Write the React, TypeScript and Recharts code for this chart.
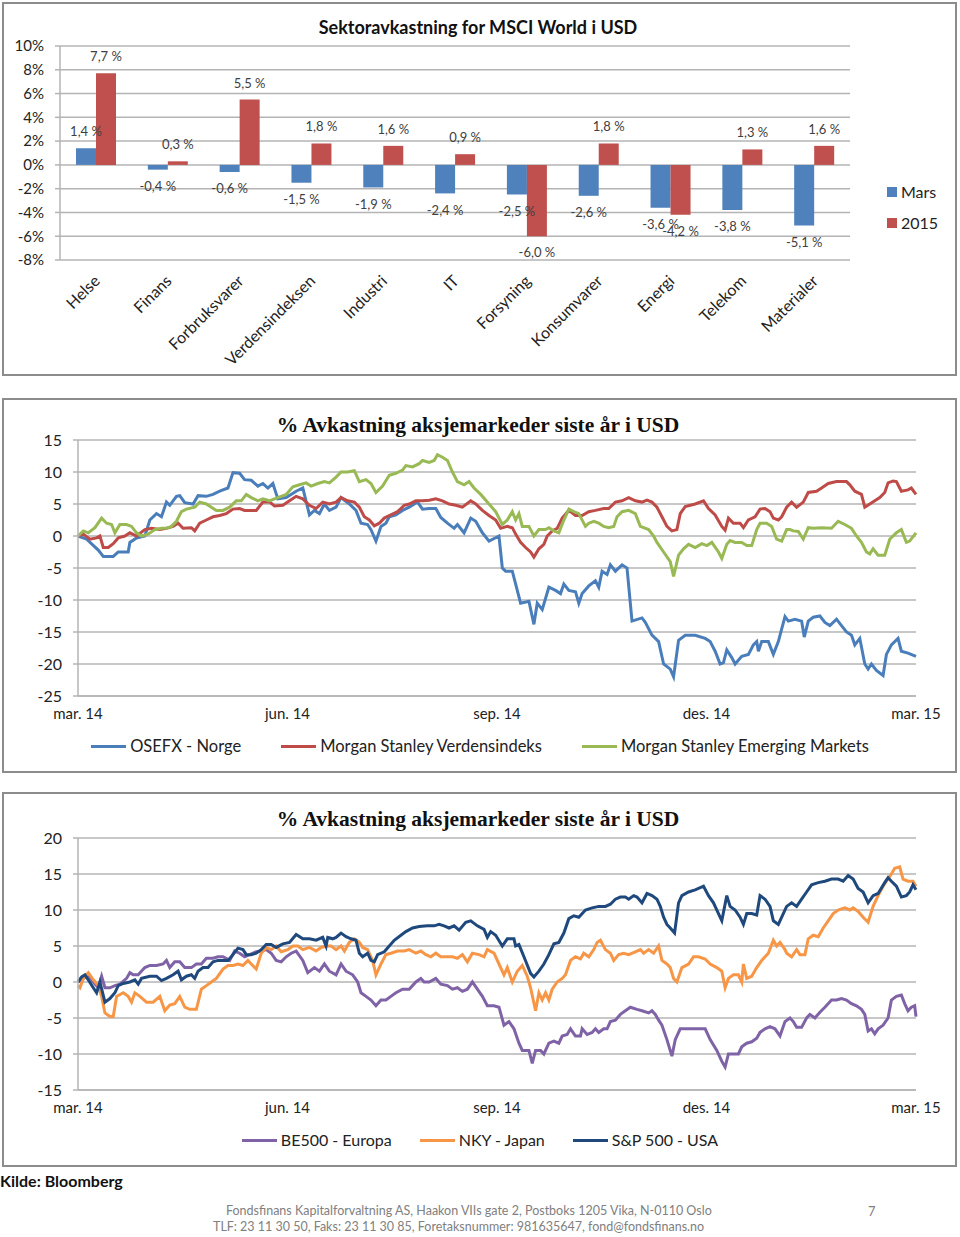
import React from 'react'
import { BarChart, Bar, XAxis, YAxis, CartesianGrid, LabelList, Legend, LineChart, Line } from 'recharts'

const SANS = 'Lato, "Open Sans", Arial, sans-serif'
const SERIF = '"Liberation Serif", "Times New Roman", serif'

// --- sektoravkastning (bar chart) ---
const SECTORS = ['Helse', 'Finans', 'Forbruksvarer', 'Verdensindeksen', 'Industri', 'IT', 'Forsyning', 'Konsumvarer', 'Energi', 'Telekom', 'Materialer']
const MARS_RETURNS = [1.4, -0.4, -0.6, -1.5, -1.9, -2.4, -2.5, -2.6, -3.6, -3.8, -5.1]
const YTD_RETURNS = [7.7, 0.3, 5.5, 1.8, 1.6, 0.9, -6.0, 1.8, -4.2, 1.3, 1.6]
const SECTOR_TICKS = [-8, -6, -4, -2, 0, 2, 4, 6, 8, 10]

// --- aksjemarkeder siste år (line charts), x = handelsdag fra mar. 14 ---
const MONTH_TICKS = [0, 63, 126, 189, 252]
const MONTH_LABELS = ['mar. 14', 'jun. 14', 'sep. 14', 'des. 14', 'mar. 15']
const TOP_TICKS = [-25, -20, -15, -10, -5, 0, 5, 10, 15]
const BOTTOM_TICKS = [-15, -10, -5, 0, 5, 10, 15, 20]

const OSEFX_NORGE = [
  [0, 0], [2.6, -0.5], [6.1, -2.2], [7.6, -3.2], [10.6, -3.2], [12.1, -2.5], [15.1, -2.5], [15.6, -1.0], [17.6, -0.3], [20.1, 0],
  [21.6, 2.5], [23.6, 3.5], [25.1, 3.0], [26.6, 5.3], [27.6, 4.8], [29.6, 6.2], [30.6, 6.3], [32.1, 5.2], [34.6, 5.0], [36.1, 6.3],
  [38.6, 6.2], [40.6, 6.5], [42.6, 7.0], [45.1, 7.5], [46.6, 9.9], [48.6, 9.8], [50.1, 8.8], [52.1, 8.7], [54.1, 7.8], [55.6, 8.2],
  [57.1, 7.5], [58.6, 8.2], [60.1, 5.8], [62.6, 6.0], [65.6, 7.0], [67.6, 7.5], [69.6, 3.3], [71.1, 4.0], [72.6, 3.5], [74.1, 5.0],
  [75.6, 4.0], [77.6, 4.5], [79.1, 6.0], [81.6, 5.0], [83.6, 4.0], [85.1, 2.0], [87.1, 1.8], [88.1, 1.0], [89.6, -0.8], [91.1, 1.5],
  [92.6, 2.0], [93.6, 3.0], [95.6, 3.3], [97.6, 4.0], [99.6, 4.5], [102.1, 5.3], [103.6, 4.2], [105.6, 4.3], [107.6, 4.3], [109.1, 2.9],
  [111.1, 2.0], [113.1, 1.2], [114.1, 1.8], [116.1, 0.5], [118.1, 2.8], [119.6, 2.3], [121.6, 0.5], [123.6, -0.8], [126.6, 0], [127.6, -5.0],
  [128.6, -5.5], [130.6, -5.5], [133.1, -10.5], [135.6, -10.2], [137.1, -13.8], [138.1, -10.5], [139.6, -11.5], [141.6, -8.0], [143.6, -8.5], [145.1, -9.0],
  [146.1, -7.5], [147.6, -8.5], [149.6, -8.7], [150.6, -10.5], [151.6, -9.0], [153.6, -7.8], [155.6, -7.0], [156.6, -8.0], [157.6, -5.5], [159.1, -6.0],
  [160.1, -4.5], [161.6, -5.5], [163.6, -4.5], [165.1, -5.0], [166.6, -13.3], [169.6, -12.8], [170.6, -13.5], [172.6, -15.5], [174.6, -16.5], [176.1, -20.0],
  [178.1, -20.8], [179.1, -22.0], [180.6, -16.3], [182.6, -15.5], [185.6, -15.5], [188.6, -16.0], [190.1, -16.5], [191.6, -18.0], [193.1, -20.0], [194.1, -19.8],
  [195.1, -17.8], [196.6, -19.0], [197.6, -20.0], [199.6, -18.8], [201.6, -18.5], [203.1, -17.0], [204.1, -16.5], [204.6, -18.0], [205.6, -16.5], [207.6, -16.5],
  [209.1, -18.5], [210.6, -16.5], [212.6, -12.6], [213.6, -13.3], [215.6, -13.0], [217.6, -13.3], [218.4, -15.8], [219.6, -13.3], [221.1, -12.7], [223.1, -12.5],
  [224.6, -13.5], [226.1, -14.0], [228.1, -13.0], [229.6, -14.0], [231.1, -15.0], [232.6, -15.5], [233.6, -17.0], [235.1, -16.0], [236.6, -20.0], [237.6, -20.8],
  [238.6, -20.0], [240.1, -21.0], [242.1, -21.8], [243.1, -18.5], [244.6, -17.0], [246.6, -16.0], [247.6, -18.0], [249.6, -18.3], [252, -18.8],
]

const MS_VERDENSINDEKS = [
  [0, 0], [1.6, 0.3], [3.6, -0.5], [5.6, -0.3], [6.6, 0], [7.6, -1.8], [9.1, -1.8], [10.6, -1.2], [12.1, -0.3], [14.1, 0],
  [15.6, 0.5], [17.6, 0], [20.1, 1.0], [22.1, 1.2], [24.6, 1.0], [26.6, 1.2], [28.6, 1.5], [30.1, 2.0], [31.6, 1.2], [34.1, 1.3],
  [35.1, 0.8], [36.6, 2.0], [38.6, 2.5], [40.6, 3.0], [42.6, 3.2], [44.6, 3.5], [46.6, 4.2], [48.6, 4.3], [50.1, 4.0], [52.1, 4.0],
  [53.6, 4.0], [55.6, 5.3], [57.6, 5.3], [59.1, 4.7], [61.6, 4.8], [63.6, 5.5], [65.6, 6.2], [67.6, 5.8], [69.6, 4.8], [71.6, 4.3],
  [73.6, 5.3], [75.6, 5.0], [77.6, 5.3], [79.1, 6.0], [81.1, 5.5], [83.1, 5.3], [84.6, 4.5], [86.1, 3.0], [87.6, 2.5], [89.1, 1.6],
  [90.6, 2.0], [92.1, 2.8], [93.6, 3.2], [96.1, 3.8], [98.1, 4.8], [99.6, 5.0], [101.6, 5.5], [103.6, 5.5], [105.6, 5.6], [107.6, 5.8],
  [109.6, 5.5], [111.6, 5.0], [113.6, 4.8], [115.6, 4.5], [118.1, 5.5], [119.6, 5.0], [121.6, 4.0], [123.6, 3.2], [125.6, 2.5], [127.1, 1.2],
  [129.1, 1.5], [130.6, 1.3], [131.6, 0.3], [133.1, -1.0], [134.6, -1.8], [136.1, -2.5], [137.1, -3.3], [138.6, -2.0], [140.1, -1.3], [141.1, 0],
  [142.6, 0.8], [144.1, 1.2], [145.6, 2.8], [147.6, 4.0], [149.6, 3.2], [151.6, 3.2], [153.6, 3.8], [155.6, 4.0], [158.1, 4.3], [159.6, 4.3],
  [161.6, 5.3], [163.6, 5.5], [165.6, 6.0], [167.6, 5.5], [169.6, 5.3], [171.1, 5.6], [172.6, 5.3], [174.1, 4.5], [175.6, 3.0], [177.1, 1.5],
  [178.6, 0.8], [180.1, 1.0], [181.1, 3.5], [182.6, 4.6], [185.6, 5.0], [188.1, 5.5], [189.6, 4.3], [191.6, 3.3], [193.6, 1.5], [194.6, 0.9],
  [195.6, 2.8], [197.1, 2.0], [199.1, 2.0], [200.1, 1.3], [201.6, 2.5], [203.6, 3.0], [205.1, 4.2], [206.6, 4.3], [208.1, 3.8], [209.1, 2.8],
  [210.6, 2.5], [211.6, 3.0], [213.1, 4.5], [214.6, 5.3], [216.1, 4.5], [218.1, 5.3], [219.6, 6.8], [222.1, 7.0], [223.6, 7.5], [225.6, 8.2],
  [228.1, 8.5], [231.1, 8.5], [232.1, 8.0], [233.6, 7.0], [235.6, 6.5], [236.6, 4.5], [238.1, 5.0], [239.6, 5.5], [241.1, 6.0], [242.6, 6.8],
  [243.6, 8.3], [245.1, 8.6], [246.1, 8.5], [247.6, 7.0], [249.6, 7.2], [250.6, 7.5], [252, 6.5],
]

const MS_EMERGING = [
  [0, 0], [1.6, 0.8], [3.1, 0.5], [5.1, 1.3], [7.1, 2.8], [8.6, 2.0], [10.1, 1.8], [11.1, 0.5], [12.6, 1.8], [14.6, 1.8],
  [16.1, 1.5], [17.6, 0.5], [19.1, 0], [21.1, 0.3], [23.1, 1.0], [25.1, 1.2], [26.6, 1.2], [28.1, 1.5], [29.6, 2.3], [31.1, 3.8],
  [32.6, 4.2], [35.1, 4.5], [36.6, 5.3], [38.6, 5.0], [40.1, 4.5], [41.6, 4.0], [43.6, 4.0], [45.6, 4.5], [47.6, 5.5], [49.1, 5.5],
  [50.6, 6.5], [52.1, 6.0], [54.1, 5.5], [55.6, 5.8], [57.6, 5.5], [59.1, 5.8], [61.1, 6.2], [62.6, 6.5], [64.6, 7.7], [66.6, 8.0],
  [68.6, 8.3], [70.1, 7.8], [72.1, 8.2], [74.1, 8.5], [75.6, 8.3], [77.6, 9.2], [79.1, 10.0], [81.1, 10.0], [83.1, 10.2], [84.6, 8.5],
  [86.6, 8.8], [88.1, 8.2], [89.6, 6.8], [91.6, 7.8], [93.6, 9.5], [95.6, 9.8], [97.6, 10.3], [98.6, 11.0], [100.6, 10.8], [102.6, 11.3],
  [103.6, 11.8], [105.6, 11.5], [107.1, 11.8], [108.1, 12.7], [109.6, 12.3], [111.1, 11.8], [112.6, 10.0], [114.1, 8.5], [116.1, 8.0], [117.6, 8.5],
  [119.1, 7.5], [121.1, 6.5], [123.6, 5.0], [125.6, 3.8], [127.6, 1.8], [129.1, 2.5], [130.6, 3.8], [131.6, 2.5], [132.6, 3.5], [133.6, 1.5],
  [135.6, 1.5], [137.1, 0], [138.6, 1.0], [140.6, 1.0], [141.6, 1.3], [143.1, 0.8], [144.6, 0.5], [146.1, 2.5], [147.6, 4.2], [149.1, 3.8],
  [150.6, 3.5], [152.6, 1.5], [153.6, 2.0], [155.1, 2.3], [156.6, 2.0], [158.1, 1.5], [159.6, 1.3], [161.1, 1.5], [162.1, 3.0], [163.6, 3.8],
  [165.6, 4.0], [167.6, 3.5], [169.1, 1.5], [171.6, 1.0], [173.1, 0], [174.1, -1.0], [176.1, -2.5], [178.1, -4.0], [179.1, -6.3], [180.6, -3.0],
  [182.1, -2.0], [183.6, -1.3], [185.6, -1.8], [187.6, -1.2], [189.1, -1.5], [190.6, -1.0], [192.6, -2.5], [193.6, -3.5], [195.1, -1.3], [196.1, -0.7],
  [197.6, -1.0], [199.6, -1.0], [201.1, -1.5], [202.6, -1.5], [204.1, 1.0], [205.1, 2.0], [207.1, 2.0], [208.6, 1.5], [210.1, -0.5], [211.6, -0.8],
  [213.1, 1.0], [214.1, 1.0], [215.1, 0.8], [216.6, 0.7], [218.1, -0.5], [219.6, 1.3], [221.1, 1.2], [223.6, 1.3], [226.6, 1.2], [228.6, 2.3],
  [230.6, 1.8], [232.6, 1.2], [234.1, 0], [235.6, -1.0], [237.1, -2.5], [238.1, -2.8], [239.1, -2.0], [240.6, -3.0], [242.6, -3.0], [244.1, -0.5],
  [246.1, 0.5], [247.6, 1.0], [249.1, -1.0], [250.1, -0.8], [252, 0.5],
]

const BE500_EUROPA = [
  [0, 0], [1.6, 0.5], [3.1, 1.0], [4.6, 0], [6.1, -0.8], [7.1, 0.8], [8.1, -0.8], [9.6, -0.8], [11.1, -0.5], [12.6, -0.3],
  [14.6, 0.5], [15.6, 1.3], [16.6, 1.0], [18.1, 1.0], [20.1, 2.0], [21.6, 2.3], [23.6, 2.3], [25.6, 2.5], [26.6, 3.0], [27.6, 2.0],
  [29.1, 2.8], [30.6, 2.8], [32.1, 2.0], [34.1, 2.0], [35.6, 2.5], [37.1, 2.5], [38.6, 3.3], [40.6, 3.3], [42.1, 3.5], [43.6, 3.5],
  [45.6, 3.0], [47.1, 4.3], [48.6, 4.0], [50.1, 3.5], [51.6, 3.8], [53.6, 4.2], [55.1, 4.3], [56.6, 4.5], [58.1, 4.0], [59.6, 3.0],
  [61.1, 2.8], [62.6, 3.5], [64.1, 4.0], [65.6, 4.3], [67.6, 3.0], [69.1, 1.3], [71.1, 2.0], [72.6, 1.5], [74.1, 2.5], [75.6, 1.5],
  [77.6, 1.0], [79.1, 2.5], [80.6, 1.5], [82.6, 1.0], [84.1, 0], [85.1, -1.5], [86.6, -2.0], [88.1, -2.5], [89.6, -3.3], [91.1, -2.5],
  [92.6, -2.5], [94.1, -2.0], [95.6, -1.5], [97.6, -1.0], [99.6, -1.0], [101.6, 0], [103.1, 0.5], [104.1, 0], [105.6, 0], [107.6, 0.5],
  [109.1, -0.3], [111.1, -0.5], [112.6, -1.0], [114.1, -0.8], [115.6, -1.3], [117.1, -1.0], [118.6, 0], [120.1, -1.0], [121.6, -2.0], [123.1, -3.3],
  [125.1, -3.3], [126.6, -3.5], [128.1, -6.0], [129.6, -5.5], [131.1, -6.5], [132.6, -8.5], [133.6, -9.5], [135.6, -9.5], [136.6, -11.3], [137.6, -9.5],
  [139.1, -9.5], [140.1, -10.0], [141.6, -8.5], [143.1, -8.2], [144.6, -8.5], [145.6, -7.5], [147.1, -7.3], [148.1, -6.5], [149.6, -7.5], [151.1, -7.5],
  [151.6, -6.5], [153.1, -7.3], [154.6, -7.0], [155.6, -6.5], [156.6, -7.0], [158.1, -6.5], [159.1, -6.5], [160.1, -5.5], [161.6, -5.3], [163.1, -4.5],
  [164.6, -4.0], [166.1, -3.5], [168.1, -3.8], [169.6, -4.0], [171.6, -4.3], [172.6, -4.0], [173.6, -4.5], [174.6, -5.3], [175.6, -6.0], [177.1, -8.0],
  [178.6, -10.3], [179.6, -8.0], [181.1, -6.5], [182.6, -6.5], [184.6, -6.5], [186.6, -6.5], [188.6, -6.5], [190.1, -8.0], [192.1, -9.5], [193.6, -11.0],
  [194.6, -11.8], [195.6, -10.0], [197.1, -10.0], [198.6, -10.0], [199.6, -9.0], [201.1, -8.5], [202.6, -8.3], [204.1, -7.8], [205.1, -7.0], [206.6, -6.5],
  [208.1, -6.2], [209.6, -6.5], [211.1, -7.5], [212.6, -5.5], [214.1, -5.0], [215.1, -5.5], [216.1, -6.3], [217.6, -6.3], [219.1, -5.0], [220.1, -4.5],
  [221.6, -5.0], [223.1, -4.2], [224.6, -3.5], [226.6, -2.5], [228.1, -2.5], [229.6, -2.3], [231.1, -2.5], [232.6, -3.0], [234.1, -3.3], [235.6, -3.8],
  [236.6, -4.5], [237.6, -6.8], [238.6, -6.5], [239.6, -7.2], [240.6, -6.5], [242.1, -6.0], [243.6, -5.0], [244.6, -2.5], [246.1, -2.0], [247.6, -1.8],
  [248.6, -3.0], [249.6, -4.0], [250.6, -3.5], [251.6, -3.3], [252, -4.8],
]

const NKY_JAPAN = [
  [0, -0.5], [0.6, -0.8], [1.6, 0.5], [3.1, 1.3], [4.6, 0.3], [6.1, -0.5], [7.1, -2.0], [8.1, -4.3], [9.6, -4.8], [10.6, -4.8],
  [11.6, -2.0], [13.6, -1.5], [15.1, -2.0], [16.1, -2.8], [17.1, -1.5], [18.6, -2.0], [20.6, -2.8], [22.6, -2.8], [24.6, -2.0], [26.1, -4.0],
  [27.6, -3.2], [29.1, -3.0], [30.6, -2.0], [32.1, -3.5], [33.6, -3.8], [35.6, -3.8], [37.1, -1.0], [38.6, -0.5], [40.1, 0], [41.6, 0.5],
  [43.6, 1.8], [45.1, 2.3], [46.6, 2.3], [48.1, 2.5], [49.6, 2.3], [51.1, 3.0], [52.1, 2.5], [53.6, 1.8], [55.1, 4.0], [56.6, 4.8],
  [58.1, 4.5], [59.6, 5.0], [61.1, 4.2], [63.1, 4.5], [64.6, 5.0], [66.1, 5.0], [67.6, 4.5], [69.6, 4.8], [71.6, 4.3], [73.1, 4.8],
  [74.6, 5.0], [76.1, 5.0], [77.6, 4.5], [79.1, 5.0], [80.1, 4.3], [81.6, 5.5], [83.1, 6.0], [84.6, 5.5], [85.6, 4.8], [87.1, 4.5],
  [88.6, 3.0], [89.6, 1.0], [91.1, 2.5], [92.6, 3.8], [94.1, 4.0], [96.1, 4.3], [98.1, 4.3], [99.6, 4.5], [101.6, 4.0], [103.1, 4.3],
  [104.6, 3.8], [106.1, 3.5], [107.6, 4.0], [109.1, 3.5], [111.1, 3.5], [112.6, 3.5], [114.1, 3.3], [115.6, 3.8], [117.1, 2.8], [118.6, 4.0],
  [120.6, 3.8], [122.1, 3.5], [123.1, 4.5], [125.1, 4.0], [126.6, 2.5], [128.1, 1.0], [129.1, 2.0], [130.6, 0], [132.1, 1.5], [133.6, 2.3],
  [135.1, 0.8], [136.1, -0.8], [137.6, -4.0], [138.6, -1.5], [139.6, -2.5], [140.6, -1.5], [141.6, -2.5], [142.6, -1.0], [144.1, 0], [145.6, 0.5],
  [146.6, 1.0], [148.1, 3.0], [149.6, 3.5], [151.1, 3.2], [152.1, 4.0], [153.6, 3.5], [155.1, 4.5], [156.1, 5.5], [157.1, 5.8], [158.6, 4.5],
  [160.1, 4.0], [161.1, 3.0], [162.6, 3.8], [164.1, 4.0], [165.6, 3.8], [167.6, 4.2], [169.1, 4.5], [170.1, 4.0], [171.6, 4.5], [173.1, 4.0],
  [174.6, 5.0], [175.6, 3.0], [177.1, 2.5], [178.1, 2.0], [179.1, 0.5], [180.1, 0], [181.6, 2.0], [183.6, 2.5], [185.1, 3.5], [186.6, 3.5],
  [188.6, 3.2], [190.1, 2.5], [192.1, 2.0], [193.6, 1.5], [194.6, -0.8], [195.6, 0.5], [197.1, 1.0], [198.6, 1.0], [199.6, 0], [200.1, 2.5],
  [201.1, 0.5], [202.6, 0.8], [204.1, 2.0], [205.6, 3.0], [207.6, 4.0], [209.1, 5.8], [210.1, 5.0], [211.1, 5.5], [212.6, 4.5], [213.1, 4.0],
  [214.6, 3.5], [216.1, 4.5], [217.1, 3.8], [218.6, 3.8], [219.6, 6.0], [221.1, 6.5], [222.6, 6.3], [224.1, 7.5], [225.6, 8.5], [227.1, 9.5],
  [228.6, 10.0], [230.6, 10.3], [232.1, 10.0], [233.1, 10.3], [234.6, 9.8], [236.1, 9.0], [237.6, 8.3], [239.1, 10.5], [240.6, 12.0], [242.1, 13.3],
  [243.1, 14.0], [244.6, 15.0], [245.6, 15.8], [247.1, 16.0], [248.1, 14.3], [249.6, 14.0], [251.1, 14.0], [252, 13.3],
]

const SP500_USA = [
  [0, 0], [1.1, 0.7], [2.1, 1.0], [3.1, 0.3], [4.6, -0.8], [5.6, -1.5], [6.6, 0], [8.1, -2.8], [9.6, -2.3], [11.1, -1.5],
  [12.1, -0.5], [13.6, -0.2], [15.6, 0], [17.1, 0.3], [18.1, -0.3], [19.1, 0.5], [21.6, 0.8], [23.6, 0.8], [25.1, 0.2], [26.6, 0.5],
  [28.6, 1.0], [30.1, 1.5], [31.1, 0.3], [32.6, 0.8], [34.1, 1.0], [35.1, 0.5], [36.1, 1.5], [37.6, 2.0], [39.1, 2.0], [40.6, 2.8],
  [42.1, 3.0], [43.6, 3.0], [45.1, 3.0], [46.6, 3.8], [48.1, 4.7], [49.6, 4.5], [50.6, 3.8], [52.1, 3.8], [53.6, 4.0], [55.1, 4.5],
  [56.6, 5.2], [58.1, 5.2], [59.6, 4.8], [61.6, 5.3], [63.6, 5.5], [65.6, 6.6], [67.6, 6.0], [69.6, 6.0], [71.6, 5.8], [73.6, 6.2],
  [74.6, 5.0], [75.1, 6.2], [76.6, 6.0], [77.6, 6.2], [79.1, 6.8], [80.6, 6.3], [82.1, 6.0], [83.6, 5.8], [84.6, 4.0], [85.6, 3.5],
  [87.1, 4.0], [88.1, 3.0], [89.1, 2.8], [90.1, 3.8], [92.1, 4.2], [93.6, 5.0], [95.1, 5.8], [97.1, 6.5], [98.6, 7.0], [100.6, 7.5],
  [102.6, 7.7], [105.1, 7.8], [107.1, 7.8], [108.6, 8.0], [110.1, 7.8], [111.6, 7.5], [113.1, 7.8], [114.6, 7.2], [116.6, 8.3], [118.1, 8.5],
  [120.1, 7.8], [122.1, 7.3], [123.1, 6.2], [124.1, 7.0], [125.6, 6.5], [127.6, 5.0], [129.1, 6.0], [131.1, 6.0], [131.6, 5.0], [132.6, 5.2],
  [134.1, 3.5], [136.1, 1.2], [137.1, 0.7], [138.6, 1.5], [140.1, 2.5], [141.6, 3.8], [143.1, 5.3], [144.6, 5.5], [146.1, 6.8], [147.6, 8.8],
  [149.1, 9.2], [150.6, 9.0], [152.6, 10.0], [154.6, 10.3], [156.6, 10.5], [158.6, 10.5], [160.1, 10.8], [161.6, 11.5], [163.1, 11.8], [164.6, 11.8],
  [165.6, 11.5], [167.1, 12.0], [168.1, 11.8], [169.6, 11.0], [171.1, 12.3], [172.6, 12.0], [174.1, 11.5], [175.1, 10.5], [176.1, 9.0], [177.1, 8.0],
  [178.1, 7.5], [179.4, 6.8], [180.6, 11.0], [181.6, 12.0], [183.6, 12.5], [185.6, 12.8], [188.1, 13.3], [189.6, 12.0], [191.1, 11.0], [192.6, 9.5],
  [193.6, 8.5], [195.1, 12.0], [196.1, 10.5], [197.6, 10.0], [199.1, 9.0], [200.1, 8.0], [201.1, 9.5], [202.6, 9.5], [204.1, 9.3], [205.1, 12.0],
  [206.6, 11.5], [208.1, 10.5], [209.1, 8.5], [210.6, 8.0], [212.1, 9.5], [213.1, 10.5], [214.6, 11.0], [216.1, 10.5], [217.6, 11.5], [219.1, 12.5],
  [220.6, 13.5], [222.6, 13.8], [224.6, 14.0], [226.6, 14.3], [228.6, 14.3], [230.1, 14.0], [231.6, 14.8], [233.1, 14.3], [234.6, 13.0], [236.1, 12.5],
  [237.6, 11.0], [239.1, 12.0], [240.6, 12.3], [242.6, 13.8], [243.6, 14.5], [244.6, 14.0], [246.1, 13.3], [247.6, 11.8], [249.1, 12.0], [250.1, 12.5],
  [251.1, 13.5], [252, 12.8],
]

const BLUE = '#4f81bd'
const RED = '#c0504d'
const GRID = '#b4b4b4'

// comma decimal and a non-breaking space so the label stays on one line
const pct = (v: number) => `${v.toFixed(1).replace('.', ',')}\u00a0%`
const toPoints = (series: number[][]) => series.map(([d, v]) => ({ d, v }))

const sectorRows = SECTORS.map((name, i) => ({ name, mars: MARS_RETURNS[i], ytd: YTD_RETURNS[i] }))

const TOP_SERIES = [
  { name: 'OSEFX - Norge', color: '#4a7ebb', points: OSEFX_NORGE },
  { name: 'Morgan Stanley Verdensindeks', color: '#be4b48', points: MS_VERDENSINDEKS },
  { name: 'Morgan Stanley Emerging Markets', color: '#98b954', points: MS_EMERGING },
]

const BOTTOM_SERIES = [
  { name: 'BE500 - Europa', color: '#7f63a6', points: BE500_EUROPA },
  { name: 'NKY - Japan', color: '#f79646', points: NKY_JAPAN },
  { name: 'S&P 500 - USA', color: '#1f497d', points: SP500_USA },
]

function SectorTick({ x, y, payload }: any) {
  const ax = x + 5
  const ay = y + 22
  return (
    <text x={ax} y={ay} transform={`rotate(-45, ${ax}, ${ay})`} textAnchor="end" fontSize={16} fill="#222" fontFamily={SANS}>
      {payload.value}
    </text>
  )
}

function SectorLegend() {
  return (
    <div style={{ fontFamily: SANS, fontSize: 16, color: '#222' }}>
      {[['Mars', BLUE], ['2015', RED]].map(([label, color]) => (
        <div key={label} style={{ display: 'flex', alignItems: 'center', height: 31 }}>
          <div style={{ width: 10, height: 10, background: color, marginRight: 4 }} />
          <span>{label}</span>
        </div>
      ))}
    </div>
  )
}

function LineLegend({ items, gap, fontSize }: { items: { name: string; color: string }[]; gap: number; fontSize: number }) {
  return (
    <div style={{ display: 'flex', justifyContent: 'center', alignItems: 'center', gap, fontFamily: SANS, fontSize, color: '#222', lineHeight: '20px' }}>
      {items.map((item) => (
        <div key={item.name} style={{ display: 'flex', alignItems: 'center' }}>
          <div style={{ width: 35, height: 3, background: item.color, marginRight: 4 }} />
          <span>{item.name}</span>
        </div>
      ))}
    </div>
  )
}

function Frame({ top, height }: { top: number; height: number }) {
  return (
    <div style={{ position: 'absolute', left: 2, top, width: 955, height, border: '2px solid #8c8c8c', boxSizing: 'border-box' }} />
  )
}

function SectorChart() {
  return (
    <div style={{ position: 'absolute', left: 0, top: 0 }}>
      <BarChart width={960} height={378} data={sectorRows} margin={{ top: 46, right: 110, bottom: 0, left: 0 }} barGap={0}>
        <CartesianGrid vertical={false} stroke={GRID} strokeWidth={1.5} />
        <XAxis
          dataKey="name"
          interval={0}
          height={118}
          axisLine={false}
          tickLine={false}
          tickSize={0}
          tickMargin={0}
          tick={(props: any) => <SectorTick {...props} />}
        />
        <YAxis
          domain={[-8, 10]}
          ticks={SECTOR_TICKS}
          width={60}
          tickSize={5}
          tickMargin={11}
          tickFormatter={(v) => `${v}%`}
          axisLine={{ stroke: GRID, strokeWidth: 1.5 }}
          tickLine={{ stroke: GRID, strokeWidth: 1.5 }}
          tick={{ fontSize: 15, fill: '#222', fontFamily: SANS }}
        />
        <Bar dataKey="mars" name="Mars" fill={BLUE} barSize={20} isAnimationActive={false}>
          <LabelList dataKey="mars" position="top" offset={12} formatter={(v: any) => pct(Number(v))} fontSize={13} fill="#404040" fontFamily={SANS} />
        </Bar>
        <Bar dataKey="ytd" name="2015" fill={RED} barSize={20} isAnimationActive={false}>
          <LabelList dataKey="ytd" position="top" offset={12} formatter={(v: any) => pct(Number(v))} fontSize={13} fill="#404040" fontFamily={SANS} />
        </Bar>
        <Legend
          layout="horizontal"
          verticalAlign="middle"
          align="center"
          wrapperStyle={{ left: 887, top: 176, width: 70 }}
          content={() => <SectorLegend />}
        />
      </BarChart>
    </div>
  )
}

function MarketChart({ top, plotTop, domain, ticks, series, legendGap, legendFont }: {
  top: number; plotTop: number; domain: [number, number]; ticks: number[]; series: typeof TOP_SERIES; legendGap: number; legendFont: number
}) {
  return (
    <div style={{ position: 'absolute', left: 0, top }}>
      <LineChart width={960} height={373} margin={{ top: plotTop, right: 44, bottom: 46, left: 0 }}>
        <CartesianGrid vertical={false} stroke={GRID} strokeWidth={1.5} />
        <XAxis
          type="number"
          dataKey="d"
          domain={[0, 252]}
          ticks={MONTH_TICKS}
          tickFormatter={(v) => MONTH_LABELS[MONTH_TICKS.indexOf(v)]}
          height={30}
          tickLine={false}
          tickSize={6}
          tickMargin={6}
          axisLine={{ stroke: GRID, strokeWidth: 1.5 }}
          tick={{ fontSize: 15, fill: '#222', fontFamily: SANS }}
        />
        <YAxis
          domain={domain}
          ticks={ticks}
          width={78}
          tickSize={5}
          tickMargin={11}
          axisLine={{ stroke: GRID, strokeWidth: 1.5 }}
          tickLine={{ stroke: GRID, strokeWidth: 1.5 }}
          tick={{ fontSize: 16, fill: '#222', fontFamily: SANS }}
        />
        {series.map((s) => (
          <Line
            key={s.name}
            data={toPoints(s.points)}
            dataKey="v"
            name={s.name}
            type="linear"
            stroke={s.color}
            strokeWidth={3}
            dot={false}
            isAnimationActive={false}
          />
        ))}
        <Legend
          layout="horizontal"
          verticalAlign="middle"
          align="center"
          wrapperStyle={{ left: 0, top: 337, width: 960 }}
          content={() => <LineLegend items={series} gap={legendGap} fontSize={legendFont} />}
        />
      </LineChart>
    </div>
  )
}

const serifTitle: React.CSSProperties = {
  position: 'absolute', left: 0, width: 956, textAlign: 'center', fontFamily: SERIF, fontWeight: 'bold', fontSize: 21.5, lineHeight: '24px', color: '#111',
}

export default function App() {
  return (
    <div style={{ position: 'absolute', left: 0, top: 0, width: 960, height: 1237, background: '#fff', overflow: 'hidden' }}>
      <Frame top={2} height={374} />
      <Frame top={398} height={375} />
      <Frame top={792} height={375} />

      <div style={{ position: 'absolute', left: 0, top: 16, width: 956, textAlign: 'center', fontFamily: SANS, fontWeight: 'bold', fontSize: 18, lineHeight: '22px', color: '#111' }}>
        Sektoravkastning for MSCI World i USD
      </div>
      <SectorChart />

      <div style={{ ...serifTitle, top: 413 }}>% Avkastning aksjemarkeder siste år i USD</div>
      <MarketChart top={399} plotTop={41} domain={[-25, 15]} ticks={TOP_TICKS} series={TOP_SERIES} legendGap={40} legendFont={16.5} />

      <div style={{ ...serifTitle, top: 807 }}>% Avkastning aksjemarkeder siste år i USD</div>
      <MarketChart top={793} plotTop={45} domain={[-15, 20]} ticks={BOTTOM_TICKS} series={BOTTOM_SERIES} legendGap={28} legendFont={16} />

      <div style={{ position: 'absolute', left: 0, top: 1171, fontFamily: SANS, fontWeight: 'bold', fontSize: 16, lineHeight: '20px', color: '#111' }}>
        Kilde: Bloomberg
      </div>
      <div style={{ position: 'absolute', left: 226, top: 1203, fontFamily: SANS, fontSize: 12.5, lineHeight: '16px', color: '#808080', whiteSpace: 'nowrap' }}>
        Fondsfinans Kapitalforvaltning AS, Haakon VIIs gate 2, Postboks 1205 Vika, N-0110 Oslo
      </div>
      <div style={{ position: 'absolute', left: 213, top: 1219, fontFamily: SANS, fontSize: 12.5, lineHeight: '16px', color: '#808080', whiteSpace: 'nowrap' }}>
        TLF: 23 11 30 50, Faks: 23 11 30 85, Foretaksnummer: 981635647, fond@fondsfinans.no
      </div>
      <div style={{ position: 'absolute', left: 868, top: 1203, fontFamily: SANS, fontSize: 13, lineHeight: '16px', color: '#808080' }}>7</div>
    </div>
  )
}
